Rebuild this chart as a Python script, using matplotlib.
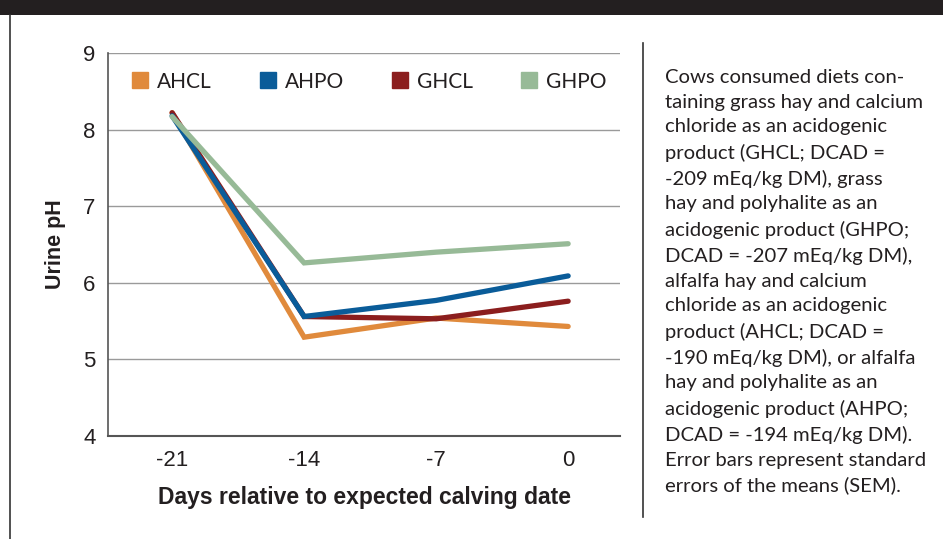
import matplotlib.pyplot as plt
from matplotlib.lines import Line2D
from matplotlib.patches import Rectangle

# data
days = [-21, -14, -7, 0]
ahcl = [8.22, 5.29, 5.54, 5.43]
ahpo = [8.18, 5.56, 5.77, 6.09]
ghcl = [8.22, 5.56, 5.53, 5.76]
ghpo = [8.17, 6.26, 6.40, 6.51]

series_names = ["AHCL", "AHPO", "GHCL", "GHPO"]
colors = ["#E08A3C", "#0A5C99", "#8B1E1E", "#97BA97"]

x_ticks = [-21, -14, -7, 0]
y_ticks = [4, 5, 6, 7, 8, 9]

note = ("Cows consumed diets con-\n"
        "taining grass hay and calcium\n"
        "chloride as an acidogenic\n"
        "product (GHCL; DCAD =\n"
        "-209 mEq/kg DM), grass\n"
        "hay and polyhalite as an\n"
        "acidogenic product (GHPO;\n"
        "DCAD = -207 mEq/kg DM),\n"
        "alfalfa hay and calcium\n"
        "chloride as an acidogenic\n"
        "product (AHCL; DCAD =\n"
        "-190 mEq/kg DM), or alfalfa\n"
        "hay and polyhalite as an\n"
        "acidogenic product (AHPO;\n"
        "DCAD = -194 mEq/kg DM).\n"
        "Error bars represent standard\n"
        "errors of the means (SEM).")

W, H = 943, 539
fig = plt.figure(figsize=(W / 100, H / 100), dpi=100)

# black header strip and frame lines
fig.add_artist(Rectangle((0, 1 - 15 / H), 1, 15 / H, transform=fig.transFigure,
                         color="#231F20", lw=0))
fig.add_artist(Line2D([10 / W, 10 / W], [0, 1 - 15 / H], transform=fig.transFigure,
                      color="#333333", lw=1.2))
fig.add_artist(Line2D([643 / W, 643 / W], [1 - 517 / H, 1 - 43 / H],
                      transform=fig.transFigure, color="#333333", lw=1.2))

ax = fig.add_axes([108 / W, 1 - 436 / H, 512 / W, 383 / H])

all_series = [ahcl, ahpo, ghcl, ghpo]
# draw order: orange, dark red, blue, green
for idx in [0, 2, 1, 3]:
    ax.plot(days, all_series[idx], color=colors[idx], lw=3.8,
            solid_capstyle="round", solid_joinstyle="miter", zorder=3)

ax.set_xlim(-24.4, 2.75)
ax.set_ylim(4, 9)
ax.set_xticks(x_ticks)
ax.set_yticks(y_ticks)
ax.set_xticklabels([str(v) for v in x_ticks])
ax.tick_params(axis="both", length=0, labelsize=16, colors="#231F20")
ax.tick_params(axis="x", pad=10)
ax.tick_params(axis="y", pad=9)
for lab in ax.get_xticklabels() + ax.get_yticklabels():
    lab.set_family("Liberation Sans")

ax.grid(axis="y", color="#9A9A9A", lw=1)
ax.set_axisbelow(True)
for side in ["top", "right"]:
    ax.spines[side].set_visible(False)
ax.spines["left"].set_color("#555555")
ax.spines["bottom"].set_color("#555555")
ax.spines["left"].set_linewidth(1.2)
ax.spines["bottom"].set_linewidth(1.5)

ax.set_ylabel("Urine pH", fontsize=15.5, fontweight="bold", family="Liberation Sans",
              color="#231F20", labelpad=12)
ax.set_xlabel("Days relative to expected calving date", fontsize=16.5,
              fontweight="bold", family="Liberation Sans", color="#231F20",
              labelpad=11)

handles = [Line2D([], [], ls="none", marker="s", markersize=11, color=c)
           for c in colors]
leg = ax.legend(handles, series_names, ncol=4, loc="upper left",
                bbox_to_anchor=(0.01, 1.0), frameon=False,
                prop={"family": "Lato", "size": 15}, handlelength=0.8,
                handletextpad=0.4, columnspacing=2.3)
for t in leg.get_texts():
    t.set_color("#231F20")

fig.text(665 / W, 1 - 69 / H, note, va="top", ha="left", fontsize=14.6,
         family="Lato", color="#231F20", linespacing=1.545)

fig.savefig("out.png", dpi=100)
